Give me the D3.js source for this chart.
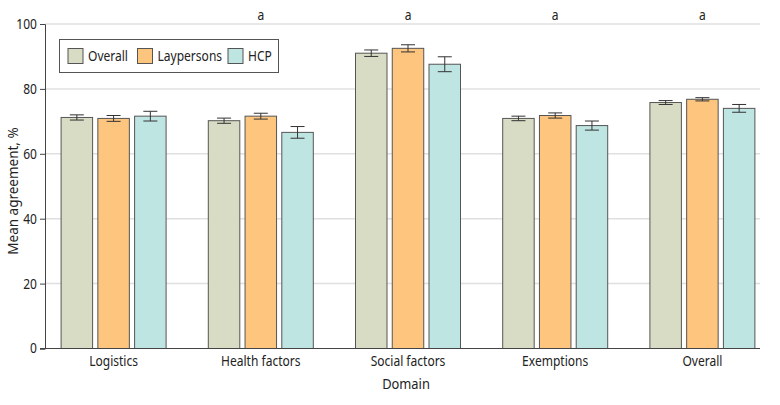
<!DOCTYPE html>
<html><head><meta charset="utf-8">
<script src="https://cdn.jsdelivr.net/npm/d3@7"></script>
<style>body{margin:0;background:#fff}svg{display:block}text{font-family:"Noto Sans",sans-serif;font-size:14px;fill:#222}</style>
</head><body>
<svg id="c" width="780" height="405"></svg>
<script>
const categories = ["Logistics","Health factors","Social factors","Exemptions","Overall"];
const series = ["Overall","Laypersons","HCP"];
const overallVals = [71.2, 70.2, 91.0, 70.9, 75.8];
const overallErr = [0.8, 0.8, 1.0, 0.7, 0.6];
const laypersonVals = [70.9, 71.6, 92.5, 71.8, 76.8];
const laypersonErr = [0.9, 0.9, 1.1, 0.8, 0.5];
const hcpVals = [71.6, 66.6, 87.6, 68.7, 74.0];
const hcpErr = [1.5, 1.8, 2.3, 1.4, 1.2];
const significant = [false, true, true, true, true];
const yTicks = [0,20,40,60,80,100];
const colors = ["#d9dcc4","#fec57f","#bfe5e3"];

const valsBySeries = [overallVals, laypersonVals, hcpVals];
const errBySeries = [overallErr, laypersonErr, hcpErr];
const SX = 0.86;

function txt(parent, x, y, str, anchor, rot, sx){
  return parent.append("text")
    .attr("transform", `translate(${x},${y})${rot ? ` rotate(${rot})` : ""} scale(${sx || SX},1)`)
    .attr("text-anchor", anchor || "start").text(str);
}

const svg = d3.select("#c");
const y = d3.scaleLinear().domain([0,100]).range([348.5,24]);
const x0 = d3.scaleBand().domain(categories).range([40,776]).padding(0);
const groupW = 105;
const x1 = d3.scaleBand().domain(series).range([0,groupW]).paddingInner(0.143).paddingOuter(0);

svg.append("g").selectAll("line").data(yTicks.filter(t=>t>0)).join("line")
  .attr("x1",45).attr("x2",760).attr("y1",d=>y(d)).attr("y2",d=>y(d))
  .attr("stroke","#e0e0e0").attr("stroke-width",1.5);

const ya = svg.append("g").attr("transform","translate(45,0)")
  .call(d3.axisLeft(y).tickValues(yTicks).tickSize(5).tickPadding(3));
ya.select(".domain").attr("stroke","#444");
ya.selectAll(".tick line").attr("stroke","#444");
ya.selectAll(".tick text").attr("font-size",null).attr("font-family",null).attr("fill","#222")
  .attr("x",-8/SX).attr("transform",`scale(${SX},1)`);

const groups = svg.append("g").selectAll("g").data(categories).join("g")
  .attr("transform",c=>`translate(${x0(c)+x0.bandwidth()/2-groupW/2},0)`);
groups.each(function(c,ci){
  const g = d3.select(this);
  series.forEach((s,si)=>{
    const v = valsBySeries[si][ci], e = errBySeries[si][ci];
    const bx = x1(s), bw = x1.bandwidth();
    g.append("rect").attr("x",bx).attr("y",y(v)).attr("width",bw).attr("height",y(0)-y(v))
      .attr("fill",colors[si]).attr("stroke","#555").attr("stroke-width",1);
    const cx = bx+bw/2;
    g.append("line").attr("x1",cx).attr("x2",cx).attr("y1",y(v+e)).attr("y2",y(v-e)).attr("stroke","#333").attr("stroke-width",1);
    [v+e, v-e].forEach(t=>g.append("line").attr("x1",cx-7).attr("x2",cx+7).attr("y1",y(t)).attr("y2",y(t)).attr("stroke","#333").attr("stroke-width",1));
  });
  if (significant[ci]) txt(g, groupW/2, 20, "a", "middle");
});

svg.append("line").attr("x1",40).attr("x2",760).attr("y1",y(0)).attr("y2",y(0)).attr("stroke","#444");
const xl = svg.append("g");
categories.forEach(c=>txt(xl, x0(c)+x0.bandwidth()/2, 366, c, "middle"));

txt(svg, 406, 389, "Domain", "middle").style("font-size","15px");
txt(svg, 18, 191, "Mean agreement, %", "middle", -90, 0.9).style("font-size","15px");

const lg = svg.append("g");
lg.append("rect").attr("x",59.5).attr("y",39.5).attr("width",219).attr("height",33).attr("fill","#fff").attr("stroke","#555");
const legX = [68, 137.5, 228];
series.forEach((s,i)=>{
  lg.append("rect").attr("x",legX[i]).attr("y",48.5).attr("width",15).attr("height",15).attr("fill",colors[i]).attr("stroke","#555");
  txt(lg, legX[i]+20, 61, s, "start");
});
</script>
</body></html>
